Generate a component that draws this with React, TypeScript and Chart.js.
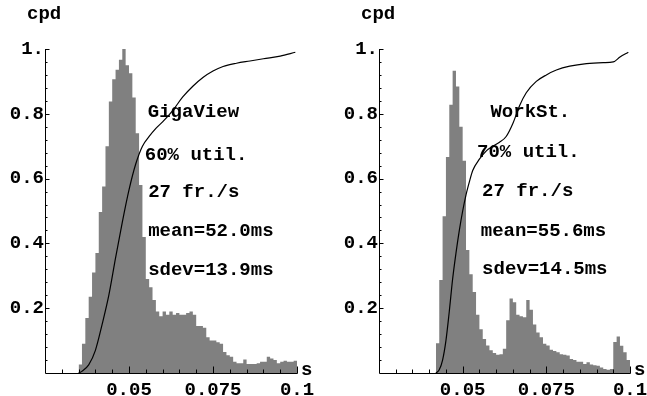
import React, { useEffect, useRef } from "react";
import { Chart, registerables } from "chart.js";

Chart.register(...registerables);

// ---------------- data ----------------
const binWidth = 0.001; // s

// GigaView histogram (normalised to peak = 1), bins of 1 ms starting at 35 ms
const gigaBinStart = 0.035;
const gigaHist = [
  0.026, 0.09, 0.17, 0.235, 0.31, 0.37, 0.497, 0.576, 0.7, 0.838,
  0.907, 0.936, 0.967, 1.0, 0.95, 0.925, 0.85, 0.74, 0.58, 0.42,
  0.29, 0.265, 0.225, 0.19, 0.175, 0.19, 0.18, 0.19, 0.18, 0.185,
  0.18, 0.18, 0.185, 0.19, 0.18, 0.145, 0.145, 0.14, 0.11, 0.1,
  0.1, 0.095, 0.09, 0.065, 0.055, 0.05, 0.035, 0.03, 0.03, 0.042,
  0.028, 0.028, 0.028, 0.03, 0.035, 0.035, 0.05, 0.045, 0.04, 0.03,
  0.035, 0.038, 0.035, 0.035, 0.038,
];

// GigaView cumulative distribution
const gigaCdfX = [
  0.035, 0.036, 0.038, 0.04, 0.042, 0.044, 0.046, 0.048, 0.05, 0.052,
  0.054, 0.056, 0.058, 0.06, 0.063, 0.066, 0.069, 0.072, 0.075, 0.078,
  0.082, 0.086, 0.09, 0.095, 0.0995,
];
const gigaCdfY = [
  0, 0.005, 0.025, 0.07, 0.15, 0.24, 0.355, 0.465, 0.565, 0.645,
  0.7, 0.73, 0.755, 0.775, 0.81, 0.852, 0.885, 0.912, 0.932, 0.946,
  0.956, 0.963, 0.97, 0.978, 0.99,
];

// WorkSt. histogram, bins of 1 ms starting at 42 ms
const workBinStart = 0.042;
const workHist = [
  0.092, 0.287, 0.484, 0.667, 0.828, 0.933, 0.884, 0.76, 0.655, 0.38,
  0.305, 0.25, 0.18, 0.135, 0.105, 0.085, 0.07, 0.062, 0.056, 0.058,
  0.075, 0.163, 0.23, 0.218, 0.18, 0.175, 0.172, 0.225, 0.195, 0.15,
  0.125, 0.11, 0.09, 0.085, 0.072, 0.068, 0.064, 0.058, 0.056, 0.054,
  0.043, 0.04, 0.035, 0.035, 0.028, 0.033, 0.026, 0.024, 0.022, 0.017,
  0.012, 0.01, 0.012, 0.096, 0.113, 0.084, 0.064, 0.04,
];

// WorkSt. cumulative distribution
const workCdfX = [
  0.042, 0.043, 0.044, 0.045, 0.046, 0.047, 0.048, 0.049, 0.05, 0.051,
  0.052, 0.053, 0.055, 0.057, 0.059, 0.061, 0.063, 0.065, 0.067, 0.069,
  0.072, 0.075, 0.078, 0.082, 0.087, 0.092, 0.095, 0.097, 0.0995,
];
const workCdfY = [
  0, 0.01, 0.04, 0.1, 0.19, 0.29, 0.37, 0.44, 0.5, 0.55,
  0.59, 0.625, 0.66, 0.685, 0.7, 0.712, 0.73, 0.77, 0.825, 0.865,
  0.9, 0.92, 0.935, 0.947, 0.955, 0.958, 0.96, 0.975, 0.99,
];

// tick labels
const xTickValues = [0.05, 0.075, 0.1];
const xTickLabels = ["0.05", "0.075", "0.1"];
const yTickValues = [0.2, 0.4, 0.6, 0.8, 1.0];
const yTickLabels = ["0.2", "0.4", "0.6", "0.8", "1."];

// annotations
const gigaNotes = ["GigaView", "60% util.", "27 fr./s", "mean=52.0ms", "sdev=13.9ms"];
const workNotes = ["WorkSt.", "70% util.", "27 fr./s", "mean=55.6ms", "sdev=14.5ms"];

// ---------------- layout / style ----------------
const FONT_FAMILY = "'Liberation Mono', 'Courier New', monospace";
const FONT_SIZE = 19;
const FONT = `bold ${FONT_SIZE}px ${FONT_FAMILY}`;
const BAR_COLOR = "#808080";

const gigaNotePos = {
  x: [0.0556, 0.0547, 0.0557, 0.0557, 0.0557],
  y: [0.806, 0.673, 0.558, 0.437, 0.318],
};
const workNotePos = {
  x: [0.0583, 0.0543, 0.0558, 0.0554, 0.0558],
  y: [0.806, 0.68, 0.56, 0.437, 0.32],
};

const decorPlugin = {
  id: "decor",
  afterDatasetsDraw(chart: any) {
    const { ctx, chartArea: a, scales } = chart;
    const xs = scales.x;
    const ys = scales.y;
    const o = chart.options.plugins.decor || {};
    ctx.save();
    ctx.strokeStyle = "#000";
    ctx.lineWidth = 1;
    const axX = Math.round(a.left) + 0.5;
    const axY = Math.round(a.bottom) + 0.5;
    ctx.beginPath();
    ctx.moveTo(axX, Math.round(a.top));
    ctx.lineTo(axX, axY);
    ctx.lineTo(Math.round(a.right) + 0.5, axY);
    ctx.stroke();

    // y ticks (inside), minor every 0.04, major every 0.2
    ctx.beginPath();
    for (let k = 1; k <= 25; k++) {
      const v = k * 0.04;
      const py = Math.round(ys.getPixelForValue(v)) + 0.5;
      const major = k % 5 === 0;
      ctx.moveTo(axX, py);
      ctx.lineTo(axX + (major ? 4 : 2), py);
    }
    // x ticks (inside), minor every 0.005, major every 0.025
    for (let k = 6; k <= 20; k++) {
      const v = k * 0.005;
      const px = Math.round(xs.getPixelForValue(v)) + 0.5;
      const major = k % 5 === 0;
      ctx.moveTo(px, axY);
      ctx.lineTo(px, axY - (major ? 7 : 4));
    }
    ctx.stroke();

    ctx.fillStyle = "#000";
    ctx.font = FONT;
    ctx.textAlign = "left";
    ctx.textBaseline = "middle";
    const notes: string[] = o.notes || [];
    const pos = o.pos;
    notes.forEach((t: string, i: number) => {
      ctx.fillText(t, xs.getPixelForValue(pos.x[i]), ys.getPixelForValue(pos.y[i]));
    });
    ctx.textBaseline = "alphabetic";
    ctx.fillText("cpd", a.left - 18, a.top - 30);
    ctx.fillText("s", a.right + 4, a.bottom + 2);
    ctx.restore();
  },
};

function makeConfig(
  hist: number[],
  binStart: number,
  cdfX: number[],
  cdfY: number[],
  notes: string[],
  pos: { x: number[]; y: number[] },
  yWidth: number,
  padRight: number
): any {
  // histogram as a stepped, filled outline through the bin edges
  const steps = hist.map((v, i) => ({ x: binStart + i * binWidth, y: v }));
  steps.push({ x: binStart + hist.length * binWidth, y: hist[hist.length - 1] });
  const cdf = cdfX.map((x, i) => ({ x, y: cdfY[i] }));
  const font = { family: FONT_FAMILY, size: FONT_SIZE, weight: "bold" as const };
  return {
    type: "line",
    data: {
      datasets: [
        {
          data: cdf,
          borderColor: "#000",
          borderWidth: 1.2,
          pointRadius: 0,
          cubicInterpolationMode: "monotone",
          fill: false,
          order: 0,
        },
        {
          data: steps,
          stepped: true,
          borderColor: "rgba(0,0,0,0)",
          borderWidth: 0,
          backgroundColor: BAR_COLOR,
          fill: "origin",
          pointRadius: 0,
          order: 1,
        },
      ],
    },
    options: {
      animation: false,
      responsive: false,
      devicePixelRatio: 1,
      layout: { padding: { top: 49, right: padRight, left: 0, bottom: 0 } },
      plugins: {
        legend: { display: false },
        tooltip: { enabled: false },
        decor: { notes, pos },
      },
      scales: {
        x: {
          type: "linear",
          min: 0.025,
          max: 0.1,
          offset: false,
          grid: { display: false, drawTicks: false, tickLength: 0 },
          border: { display: false },
          ticks: {
            stepSize: 0.025,
            autoSkip: false,
            maxRotation: 0,
            minRotation: 0,
            padding: 6,
            color: "#000",
            font,
            callback: (v: number) => {
              const i = xTickValues.findIndex((t) => Math.abs(t - v) < 1e-6);
              return i >= 0 ? xTickLabels[i] : "";
            },
          },
          afterFit: (s: any) => {
            s.height = 23;
          },
        },
        y: {
          type: "linear",
          min: 0,
          max: 1,
          grid: { display: false, drawTicks: false, tickLength: 0 },
          border: { display: false },
          ticks: {
            stepSize: 0.2,
            padding: 1,
            color: "#000",
            font,
            callback: (v: number) => {
              const i = yTickValues.findIndex((t) => Math.abs(t - v) < 1e-6);
              return i >= 0 ? yTickLabels[i] : "";
            },
          },
          afterFit: (s: any) => {
            s.width = yWidth;
          },
        },
      },
    },
    plugins: [decorPlugin],
  };
}

export default function App() {
  const leftRef = useRef<HTMLCanvasElement>(null);
  const rightRef = useRef<HTMLCanvasElement>(null);

  useEffect(() => {
    const c1 = new Chart(
      leftRef.current as HTMLCanvasElement,
      makeConfig(gigaHist, gigaBinStart, gigaCdfX, gigaCdfY, gigaNotes, gigaNotePos, 45, 26)
    );
    const c2 = new Chart(
      rightRef.current as HTMLCanvasElement,
      makeConfig(workHist, workBinStart, workCdfX, workCdfY, workNotes, workNotePos, 56, 33)
    );
    return () => {
      c1.destroy();
      c2.destroy();
    };
  }, []);

  return (
    <div
      style={{
        position: "absolute",
        left: 0,
        top: 0,
        width: 647,
        height: 396,
        overflow: "hidden",
        background: "#fff",
      }}
    >
      <canvas
        ref={leftRef}
        width={323}
        height={396}
        style={{ position: "absolute", left: 0, top: 0, width: 323, height: 396 }}
      />
      <canvas
        ref={rightRef}
        width={340}
        height={396}
        style={{ position: "absolute", left: 323, top: 0, width: 340, height: 396 }}
      />
    </div>
  );
}
